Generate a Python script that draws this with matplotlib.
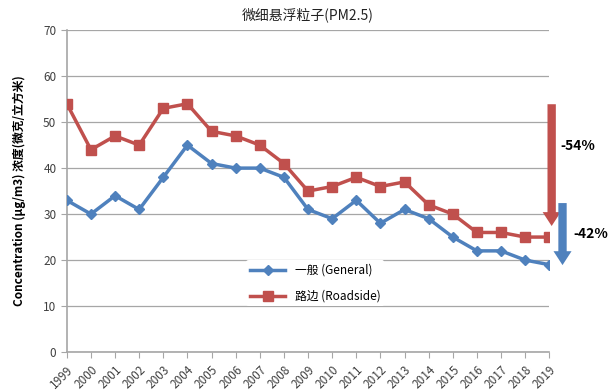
import matplotlib.pyplot as plt

plt.rcParams['font.family'] = ['Noto Sans CJK SC', 'DejaVu Sans']

years = list(range(1999, 2020))
general = [33, 30, 34, 31, 38, 45, 41, 40, 40, 38, 31, 29, 33, 28, 31, 29, 25, 22, 22, 20, 19]
roadside = [54, 44, 47, 45, 53, 54, 48, 47, 45, 41, 35, 36, 38, 36, 37, 32, 30, 26, 26, 25, 25]

blue = "#4F81BD"
red = "#C0504D"
grey = "#A6A6A6"

fig = plt.figure(figsize=(6.13, 3.92), dpi=100)
ax = fig.add_axes([0.109, 0.102, 0.787, 0.821])

ax.plot(years, general, color=blue, lw=2.5, marker="D", ms=5.5, label="一般 (General)", zorder=3)
ax.plot(years, roadside, color=red, lw=2.5, marker="s", ms=7, label="路边 (Roadside)", zorder=3)

ax.set_xlim(1999, 2019)
ax.set_ylim(0, 70)
ax.set_yticks(range(0, 71, 10))
ax.set_xticks(years)
ax.set_xticklabels([str(y) for y in years], rotation=45, ha="right", rotation_mode="anchor")
ax.yaxis.grid(True, color=grey, lw=0.9)
ax.set_axisbelow(True)
for s in ["top", "right"]:
    ax.spines[s].set_visible(False)
for s in ["left", "bottom"]:
    ax.spines[s].set_color(grey)
    ax.spines[s].set_linewidth(1.2)
ax.tick_params(colors=grey, length=4, labelsize=8.5, labelcolor="#404040")
ax.tick_params(axis="x", pad=4)

ax.set_title("微细悬浮粒子(PM2.5)", fontsize=10, color="#222222", pad=8, fontweight="medium")
ax.set_ylabel("Concentration (µg/m3) 浓度(微克/立方米)", fontsize=8.5, fontweight="bold", labelpad=12)

# reduction arrows
style = "simple,head_width=1.3,head_length=1.0,tail_width=0.6"
ax.annotate("", xy=(2019.1, 26.8), xytext=(2019.1, 54.5),
            arrowprops=dict(arrowstyle=style, color=red, lw=0), annotation_clip=False, zorder=4)
ax.annotate("", xy=(2019.55, 18.3), xytext=(2019.55, 33),
            arrowprops=dict(arrowstyle=style, color=blue, lw=0), annotation_clip=False, zorder=4)
ax.text(2019.45, 44.8, "-54%", fontsize=10, fontweight="bold", va="center", ha="left", clip_on=False)
ax.text(2020.0, 25.6, "-42%", fontsize=10, fontweight="bold", va="center", ha="left", clip_on=False)

leg = ax.legend(loc="center", bbox_to_anchor=(0.515, 0.214), frameon=True, fontsize=8.5,
                handlelength=3, labelspacing=1.1, borderpad=0.3)
leg.get_frame().set_edgecolor("none")
leg.get_frame().set_facecolor("white")
leg.get_frame().set_alpha(1)

fig.savefig("out.png", dpi=100)
